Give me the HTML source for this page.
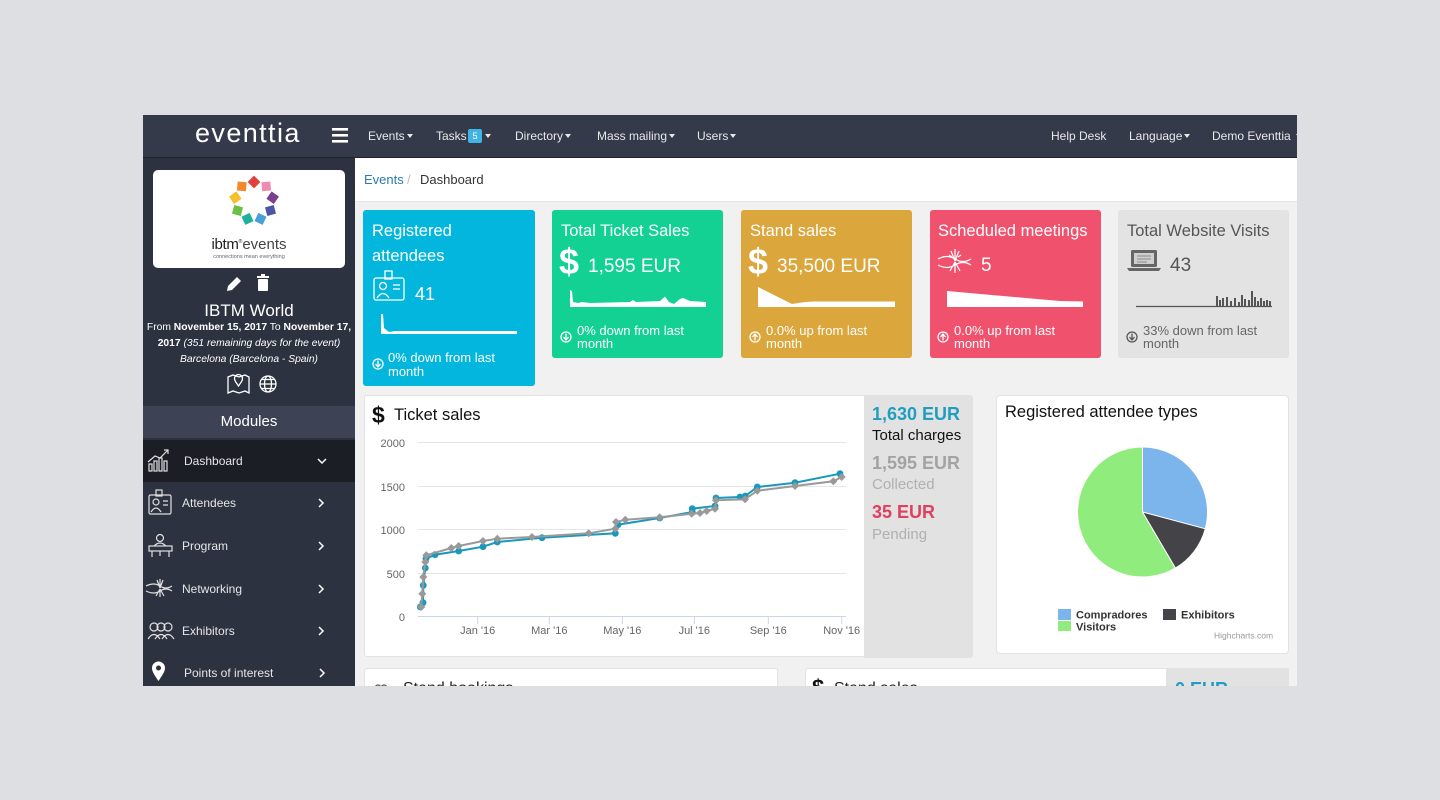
<!DOCTYPE html>
<html><head><meta charset="utf-8">
<style>
html,body{margin:0;padding:0}
body{width:1440px;height:800px;background:#dedfe3;overflow:hidden;position:relative;font-family:"Liberation Sans",sans-serif}
#frame{position:absolute;left:0;top:0;width:1440px;height:800px;clip-path:inset(115px 143px 114px 143px)}
.a{position:absolute;white-space:nowrap}
.b{position:absolute}
.c{display:inline-block;width:0;height:0;border-left:3.5px solid transparent;border-right:3.5px solid transparent;border-top:4px solid #e8e8e8;vertical-align:middle;margin-left:2px;margin-top:-2px}
.nav{font-size:12px;line-height:16px;top:128px;color:#e8e8e8}
.w{color:#fff}
.ct{font-size:16.5px;line-height:20px;color:#fff}
.ft{font-size:13px;line-height:13px;color:#fff}
.mi{font-size:12px;line-height:16px;color:#e6e6e6}
</style></head><body>
<div id="frame">
<!-- backgrounds -->
<div class="b" style="left:143px;top:115px;width:1154px;height:42px;background:#343a4a"></div>
<div class="b" style="left:143px;top:157px;width:1154px;height:1px;background:#1f232c"></div>
<div class="b" style="left:355px;top:158px;width:942px;height:528px;background:#f1f1f1"></div>
<div class="b" style="left:355px;top:158px;width:942px;height:43px;background:#fff;border-bottom:1px solid #e6e6e6"></div>
<div class="b" style="left:143px;top:158px;width:212px;height:528px;background:#2d3240"></div>
<div class="b" style="left:153px;top:170px;width:192px;height:98px;background:#fff;border-radius:5px"></div>
<div class="b" style="left:143px;top:406px;width:212px;height:32px;background:#3d4355"></div>
<div class="b" style="left:143px;top:440px;width:212px;height:42px;background:#1b1e25"></div>

<!-- cards -->
<div class="b" style="left:363px;top:210px;width:172px;height:176px;background:#03b6dd;border-radius:3px"></div>
<div class="b" style="left:552px;top:210px;width:171px;height:148px;background:#12d193;border-radius:3px"></div>
<div class="b" style="left:741px;top:210px;width:171px;height:148px;background:#dba63c;border-radius:3px"></div>
<div class="b" style="left:930px;top:210px;width:171px;height:148px;background:#f0526e;border-radius:3px"></div>
<div class="b" style="left:1118px;top:210px;width:171px;height:148px;background:#e3e3e3;border-radius:3px"></div>

<!-- panels -->
<div class="b" style="left:364px;top:395px;width:608px;height:262px;background:#fff;border:1px solid #e3e3e3;border-radius:3px;box-sizing:border-box"></div>
<div class="b" style="left:864px;top:395px;width:109px;height:263px;background:#e2e2e2;border-radius:0 3px 3px 0"></div>
<div class="b" style="left:996px;top:395px;width:293px;height:259px;background:#fff;border:1px solid #e3e3e3;border-radius:4px;box-sizing:border-box"></div>
<div class="b" style="left:364px;top:668px;width:414px;height:40px;background:#fff;border:1px solid #e3e3e3;border-radius:3px;box-sizing:border-box"></div>
<div class="b" style="left:805px;top:668px;width:484px;height:40px;background:#fff;border:1px solid #e3e3e3;border-radius:3px;box-sizing:border-box"></div>
<div class="b" style="left:1166px;top:668px;width:123px;height:40px;background:#e2e2e2"></div>

<!-- graphics -->
<svg class="b" style="left:0;top:0" width="1440" height="800" viewBox="0 0 1440 800">
<defs>
<marker id="mb" markerWidth="8" markerHeight="8" refX="4" refY="4" markerUnits="userSpaceOnUse"><circle cx="4" cy="4" r="3.4" fill="#1a98bb"/></marker>
<marker id="mg" markerWidth="10" markerHeight="10" refX="5" refY="5" markerUnits="userSpaceOnUse"><path d="M5,1 L9,5 L5,9 L1,5 Z" fill="#999"/></marker>
</defs>
<!-- hamburger -->
<rect x="332" y="128" width="16" height="2.6" fill="#fff"/>
<rect x="332" y="134" width="16" height="2.6" fill="#fff"/>
<rect x="332" y="140" width="16" height="2.6" fill="#fff"/>

<!-- logo ring -->
<g>
<rect x="-4.5" y="-4.5" width="9" height="9" fill="#e2403f" transform="translate(254,182) rotate(45)"/>
<rect x="-4.5" y="-4.5" width="9" height="9" fill="#ef8bb2" transform="translate(266.2,186.4) rotate(85)"/>
<rect x="-4.5" y="-4.5" width="9" height="9" fill="#7c3f8e" transform="translate(272.7,197.7) rotate(125)"/>
<rect x="-4.5" y="-4.5" width="9" height="9" fill="#4c56a8" transform="translate(270.5,210.5) rotate(165)"/>
<rect x="-4.5" y="-4.5" width="9" height="9" fill="#4a9fd9" transform="translate(260.5,218.9) rotate(205)"/>
<rect x="-4.5" y="-4.5" width="9" height="9" fill="#1fb09a" transform="translate(247.5,218.9) rotate(245)"/>
<rect x="-4.5" y="-4.5" width="9" height="9" fill="#6bbf45" transform="translate(237.5,210.5) rotate(285)"/>
<rect x="-4.5" y="-4.5" width="9" height="9" fill="#f5c02b" transform="translate(235.3,197.7) rotate(325)"/>
<rect x="-4.5" y="-4.5" width="9" height="9" fill="#f08a2c" transform="translate(241.8,186.4) rotate(5)"/>
</g>
<!-- pencil & trash -->
<g fill="#fff">
<path d="M227,291 L228,286 L237,277 L241,281 L232,290 Z"/>
<rect x="258" y="279" width="10" height="12" rx="1"/>
<rect x="257" y="276" width="12" height="2"/>
<rect x="261" y="274" width="4" height="2"/>
</g>
<!-- map & globe -->
<g fill="none" stroke="#fff" stroke-width="1.3">
<path d="M228,377 L233,375 L239,377 L245,375 L249,377 L249,393 L245,391 L239,393 L233,391 L228,393 Z"/>
<path d="M238.5,386 C235,381 234.5,380 234.5,378.5 a4,4 0 1 1 8,0 c0,1.5 -0.5,2.5 -4,7.5z"/>
<circle cx="268" cy="384" r="8"/>
<ellipse cx="268" cy="384" rx="3.5" ry="8"/>
<line x1="260" y1="384" x2="276" y2="384"/>
<path d="M261.5,379.5 H274.5 M261.5,388.5 H274.5"/>
</g>

<!-- sidebar icons -->
<g fill="none" stroke="#e0e0e0" stroke-width="1.2">
<rect x="149" y="464" width="3" height="7"/><rect x="154" y="461" width="3" height="10"/><rect x="159" y="458" width="3" height="13"/><rect x="164" y="461" width="3" height="10"/>
<polyline points="148,462 155,456 160,458 168,450"/><polyline points="164,450 168,450 168,454"/>
<rect x="149" y="495" width="22" height="19" rx="1.5"/><rect x="156" y="490" width="6" height="6"/>
<circle cx="156" cy="502" r="3"/><path d="M151,512 q5,-8 10,0"/><path d="M163,501 h5 M163,505 h5"/>
<circle cx="160" cy="538" r="3.5"/><path d="M154,546 q6,-6 12,0"/><rect x="149" y="546" width="23" height="5"/><path d="M152,551 v6 M169,551 v6 M160,551 v5"/>
<path d="M146,586 q8,-4 14,0 q6,4 12,0 M146,591 q8,4 14,0 q6,-4 12,0 M160,588 l-3,-8 M160,588 v-9 M160,588 l3,-8 M160,589 l-4,7 M160,589 v8 M160,589 l4,7"/>
<circle cx="154" cy="627" r="4"/><circle cx="161" cy="627" r="4"/><circle cx="168" cy="627" r="4"/>
<path d="M148,639 q6,-9 12,0 M155,639 q6,-9 12,0 M162,639 q6,-9 12,0"/>
<polyline points="318,459 322,463 326,459" stroke="#fff" stroke-width="1.5"/>
<polyline points="319,499 323,503 319,507" stroke="#fff" stroke-width="1.5"/>
<polyline points="319,542 323,546 319,550" stroke="#fff" stroke-width="1.5"/>
<polyline points="319,585 323,589 319,593" stroke="#fff" stroke-width="1.5"/>
<polyline points="319,627 323,631 319,635" stroke="#fff" stroke-width="1.5"/>
<polyline points="320,669 324,673 320,677" stroke="#fff" stroke-width="1.5"/>
</g>
<path d="M158.5,681 C153,673 152,670.5 152,668 a6.5,6.5 0 1 1 13,0 c0,2.5 -1,5 -6.5,13 z" fill="#fff"/>
<circle cx="158.5" cy="668" r="2.5" fill="#2d3240"/>

<!-- card 1 icon -->
<g fill="none" stroke="#fff" stroke-width="1.3">
<rect x="374" y="278" width="30" height="22" rx="2"/><rect x="385" y="271" width="7" height="8"/>
<circle cx="383" cy="286" r="3.5"/><path d="M377,298 q6,-9 12,0"/><path d="M393,285 h7 M393,289 h7"/>
</g>
<!-- sparklines -->
<path d="M381,334 L381,314 L383,314 L384,328 L389,332 L395,331 L517,331 L517,334 Z" fill="#fff"/>
<path d="M570,307 L570,290 L572,291 L573,302 L578,303 L582,302 L590,303 L630,302 L633,300 L636,302 L660,301 L665,296.5 L669,302 L674,304 L680,299 L683,298 L690,301 L706,302 L706,307 Z" fill="#fff"/>
<path d="M758,307 L758,287 L760,288 L792,304 L805,302 L814,301.5 L895,301.5 L895,307 Z" fill="#fff"/>
<path d="M947,307 L947,291 L1060,301 L1083,301.5 L1083,307 Z" fill="#fff"/>
<line x1="1136" y1="306.5" x2="1272" y2="306.5" stroke="#555" stroke-width="1.3"/>
<g fill="#555">
<rect x="1216" y="296" width="2" height="10"/><rect x="1219" y="300" width="2" height="6"/><rect x="1222" y="298" width="2" height="8"/><rect x="1226" y="297" width="2" height="9"/><rect x="1230" y="301" width="2" height="5"/><rect x="1234" y="298" width="2" height="8"/><rect x="1238" y="302" width="2" height="4"/><rect x="1241" y="295" width="2" height="11"/><rect x="1244" y="299" width="2" height="7"/><rect x="1248" y="300" width="2" height="6"/><rect x="1251" y="291" width="2" height="15"/><rect x="1254" y="297" width="2" height="9"/><rect x="1257" y="301" width="2" height="5"/><rect x="1260" y="298" width="2" height="8"/><rect x="1263" y="301" width="2" height="5"/><rect x="1266" y="300" width="2" height="6"/><rect x="1269" y="301" width="2" height="5"/>
</g>
<!-- card 4 neuron icon -->
<g fill="none" stroke="#fff" stroke-width="1.2">
<path d="M938,259 q9,-5 17,0 q8,5 16,0 M938,265 q9,5 17,0 q8,-5 16,0 M955,261 l-4,-10 M955,261 v-12 M955,261 l4,-10 M955,262 l-5,9 M955,262 v11 M955,262 l5,9 M949,255 l3,2 M961,255 l-3,2"/>
</g>
<!-- card 5 laptop -->
<rect x="1131" y="250" width="26" height="17" rx="1.5" fill="#666"/>
<rect x="1134" y="253" width="20" height="11" fill="#cfcfcf"/>
<path d="M1137,256 h14 M1137,259 h14 M1137,262 h10" stroke="#888" stroke-width="1"/>
<path d="M1127,268 L1161,268 L1159,271 L1129,271 Z" fill="#666"/>
<!-- footer icons -->
<g fill="none" stroke="#fff" stroke-width="1.3">
<circle cx="378" cy="364" r="5"/><path d="M378,360.5 v6 M375.5,364 l2.5,3 l2.5,-3"/>
<circle cx="566" cy="337" r="5"/><path d="M566,333.5 v6 M563.5,337 l2.5,3 l2.5,-3"/>
<circle cx="755" cy="337" r="5"/><path d="M755,340.5 v-6 M752.5,337 l2.5,-3 l2.5,3"/>
<circle cx="943" cy="337" r="5"/><path d="M943,340.5 v-6 M940.5,337 l2.5,-3 l2.5,3"/>
</g>
<g fill="none" stroke="#555" stroke-width="1.3">
<circle cx="1132" cy="337" r="5"/><path d="M1132,333.5 v6 M1129.5,337 l2.5,3 l2.5,-3"/>
</g>

<!-- ticket chart -->
<g stroke="#e6e6e6" stroke-width="1">
<line x1="418" y1="442.5" x2="846" y2="442.5"/>
<line x1="418" y1="486.5" x2="846" y2="486.5"/>
<line x1="418" y1="529.5" x2="846" y2="529.5"/>
<line x1="418" y1="573.5" x2="846" y2="573.5"/>
</g>
<line x1="418" y1="616.5" x2="846" y2="616.5" stroke="#ccd6eb"/>
<g stroke="#ccd6eb">
<line x1="477.7" y1="617" x2="477.7" y2="624"/><line x1="549.3" y1="617" x2="549.3" y2="624"/><line x1="622.3" y1="617" x2="622.3" y2="624"/><line x1="694.3" y1="617" x2="694.3" y2="624"/><line x1="768.3" y1="617" x2="768.3" y2="624"/><line x1="841.7" y1="617" x2="841.7" y2="624"/>
</g>
<g font-family="Liberation Sans, sans-serif" font-size="11" fill="#666" text-anchor="end">
<text x="405" y="447">2000</text><text x="405" y="491">1500</text><text x="405" y="534">1000</text><text x="405" y="578">500</text><text x="405" y="621">0</text>
</g>
<g font-family="Liberation Sans, sans-serif" font-size="11" fill="#666" text-anchor="middle">
<text x="477.7" y="634">Jan '16</text><text x="549.3" y="634">Mar '16</text><text x="622.3" y="634">May '16</text><text x="694.3" y="634">Jul '16</text><text x="768.3" y="634">Sep '16</text><text x="841.7" y="634">Nov '16</text>
</g>
<polyline fill="none" stroke="#1a98bb" stroke-width="2" marker-start="url(#mb)" marker-mid="url(#mb)" marker-end="url(#mb)" points="420.3,607 423,602.7 423.3,585.3 425.3,568 426,558.7 435,554.7 458.7,551 483,546.7 497.3,542 542,537.7 615.3,533.3 618,524.7 659.7,518 692.3,512 692.3,508.7 715,506 716,498 740,497 745.3,496 757.3,487 795,482.7 840,473.7"/>
<polyline fill="none" stroke="#999" stroke-width="2" marker-start="url(#mg)" marker-mid="url(#mg)" marker-end="url(#mg)" points="421.3,607 422.3,593.7 423.3,577 425.3,562 426.3,555.3 451.3,548 458.7,546 483,541 497.3,538.7 532,537 588.7,533.3 615.3,528.7 616,522 625.3,519.7 659.7,517.3 691.7,513.7 700,513 706.7,511 715,508.7 716,500.3 745,499.3 757.3,490.7 795,486 833.3,481.3 841.7,477"/>

<!-- pie -->
<g stroke="#fff" stroke-width="1">
<path d="M1142.5,512 L1142.5,447 A65,65 0 0 1 1205.3,528.8 Z" fill="#7cb5ec"/>
<path d="M1142.5,512 L1205.3,528.8 A65,65 0 0 1 1175.4,568.1 Z" fill="#434348"/>
<path d="M1142.5,512 L1175.4,568.1 A65,65 0 1 1 1142.5,447 Z" fill="#90ed7d"/>
</g>
<rect x="1058" y="609" width="13" height="11" fill="#7cb5ec"/>
<rect x="1163" y="609" width="13" height="11" fill="#434348"/>
<rect x="1058" y="621" width="13" height="10" fill="#90ed7d"/>
<g font-family="Liberation Sans, sans-serif" font-size="11" font-weight="bold" fill="#333">
<text x="1076" y="618.5">Compradores</text><text x="1181" y="618.5">Exhibitors</text><text x="1076" y="630.5">Visitors</text>
</g>
<text x="1214" y="638.5" font-family="Liberation Sans, sans-serif" font-size="8.5" fill="#999">Highcharts.com</text>

<!-- bottom icons -->
<g fill="none" stroke="#555" stroke-width="1.2">
<circle cx="378" cy="688" r="3"/><circle cx="384" cy="688" r="3"/>
</g>
</svg>

<!-- nav text -->
<div class="a" style="left:195px;top:117px;font-size:27px;line-height:32px;color:#fff;letter-spacing:1.4px">eventtia</div>
<div class="a nav" style="left:368px">Events<span class="c"></span></div>
<div class="a nav" style="left:436px">Tasks</div>
<div class="a" style="left:468px;top:129px;width:14px;height:14px;background:#3fb4e5;border-radius:2px;color:#fff;font-size:9px;line-height:14px;text-align:center">5</div>
<div class="a nav" style="left:483px"><span class="c"></span></div>
<div class="a nav" style="left:515px">Directory<span class="c"></span></div>
<div class="a nav" style="left:597px">Mass mailing<span class="c"></span></div>
<div class="a nav" style="left:697px">Users<span class="c"></span></div>
<div class="a nav" style="left:1051px">Help Desk</div>
<div class="a nav" style="left:1129px">Language<span class="c"></span></div>
<div class="a nav" style="left:1212px">Demo Eventtia <span class="c"></span></div>

<!-- breadcrumb -->
<div class="a" style="left:364px;top:172px;font-size:13px;line-height:16px;color:#2a7ab0">Events</div>
<div class="a" style="left:407px;top:172px;font-size:13px;line-height:16px;color:#bbb">/</div>
<div class="a" style="left:420px;top:172px;font-size:13px;line-height:16px;color:#333">Dashboard</div>

<!-- sidebar text -->
<div class="a" style="left:153px;width:192px;top:234px;text-align:center;font-size:15px;line-height:16px;color:#222"><b style="font-weight:normal;letter-spacing:-0.3px">ibtm</b><sup style="font-size:5px">®</sup><span style="color:#444">events</span></div>
<div class="a" style="left:153px;width:192px;top:254px;text-align:center;font-size:5.5px;line-height:6px;color:#666">connections mean everything</div>
<div class="a w" style="left:143px;width:212px;top:301px;text-align:center;font-size:17px;line-height:20px">IBTM World</div>
<div class="a w" style="left:143px;width:212px;top:321px;text-align:center;font-size:10.3px;line-height:14px">From <b>November 15, 2017</b> To <b>November 17,</b></div>
<div class="a w" style="left:143px;width:212px;top:337px;text-align:center;font-size:10.3px;line-height:14px"><b>2017</b> <i>(351 remaining days for the event)</i></div>
<div class="a w" style="left:143px;width:212px;top:353px;text-align:center;font-size:10.3px;line-height:14px"><i>Barcelona (Barcelona - Spain)</i></div>
<div class="a w" style="left:143px;width:212px;top:412px;text-align:center;font-size:15px;line-height:20px">Modules</div>
<div class="a mi" style="left:184px;top:453px">Dashboard</div>
<div class="a mi" style="left:182px;top:495px">Attendees</div>
<div class="a mi" style="left:182px;top:538px">Program</div>
<div class="a mi" style="left:182px;top:581px">Networking</div>
<div class="a mi" style="left:182px;top:623px">Exhibitors</div>
<div class="a mi" style="left:184px;top:665px">Points of interest</div>

<!-- card texts -->
<div class="a ct" style="left:372px;top:221px">Registered</div>
<div class="a ct" style="left:372px;top:246px">attendees</div>
<div class="a w" style="left:415px;top:283px;font-size:18px;line-height:22px">41</div>
<div class="a ft" style="left:388px;top:351px">0% down from last</div>
<div class="a ft" style="left:388px;top:365px">month</div>

<div class="a ct" style="left:561px;top:221px">Total Ticket Sales</div>
<div class="a w" style="left:559px;top:242px;font-size:36px;line-height:40px;font-weight:bold">$</div>
<div class="a w" style="left:588px;top:256px;font-size:19px;line-height:22px">1,595 EUR</div>
<div class="a ft" style="left:577px;top:324px">0% down from last</div>
<div class="a ft" style="left:577px;top:337px">month</div>

<div class="a ct" style="left:750px;top:221px">Stand sales</div>
<div class="a w" style="left:748px;top:242px;font-size:36px;line-height:40px;font-weight:bold">$</div>
<div class="a w" style="left:777px;top:256px;font-size:19px;line-height:22px">35,500 EUR</div>
<div class="a ft" style="left:766px;top:324px">0.0% up from last</div>
<div class="a ft" style="left:766px;top:337px">month</div>

<div class="a ct" style="left:938px;top:221px">Scheduled meetings</div>
<div class="a w" style="left:981px;top:255px;font-size:19px;line-height:22px">5</div>
<div class="a ft" style="left:954px;top:324px">0.0% up from last</div>
<div class="a ft" style="left:954px;top:337px">month</div>

<div class="a ct" style="left:1127px;top:221px;color:#555">Total Website Visits</div>
<div class="a" style="left:1170px;top:255px;font-size:19px;line-height:22px;color:#555">43</div>
<div class="a ft" style="left:1143px;top:324px;color:#666">33% down from last</div>
<div class="a ft" style="left:1143px;top:337px;color:#666">month</div>

<!-- ticket sales panel text -->
<div class="a" style="left:372px;top:402px;font-size:23px;line-height:26px;font-weight:bold;color:#111">$</div>
<div class="a" style="left:394px;top:405px;font-size:16.5px;line-height:20px;color:#111">Ticket sales</div>
<div class="a" style="left:872px;top:403px;font-size:18px;line-height:22px;font-weight:bold;color:#1f9ec2">1,630 EUR</div>
<div class="a" style="left:872px;top:426px;font-size:15px;line-height:20px;color:#111">Total charges</div>
<div class="a" style="left:872px;top:452px;font-size:18px;line-height:22px;font-weight:bold;color:#a3a3a3">1,595 EUR</div>
<div class="a" style="left:872px;top:475px;font-size:15px;line-height:20px;color:#b0b0b0">Collected</div>
<div class="a" style="left:872px;top:501px;font-size:18px;line-height:22px;font-weight:bold;color:#e0405e">35 EUR</div>
<div class="a" style="left:872px;top:525px;font-size:15px;line-height:20px;color:#b0b0b0">Pending</div>

<!-- pie title -->
<div class="a" style="left:1005px;top:402px;font-size:16.5px;line-height:20px;color:#111">Registered attendee types</div>

<!-- bottom panels -->
<div class="a" style="left:403px;top:679px;font-size:16px;line-height:20px;color:#222">Stand bookings</div>
<div class="a" style="left:812px;top:676px;font-size:22px;line-height:24px;font-weight:bold;color:#111">$</div>
<div class="a" style="left:834px;top:679px;font-size:16px;line-height:20px;color:#222">Stand sales</div>
<div class="a" style="left:1175px;top:678px;font-size:18px;line-height:22px;font-weight:bold;color:#1f9ec2">0 EUR</div>
</div>
</body></html>
